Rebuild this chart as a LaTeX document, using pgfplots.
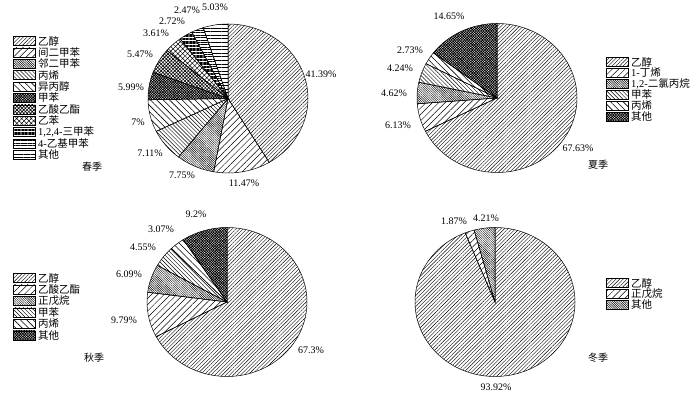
\documentclass[border=0pt]{standalone}
\usepackage{fontspec}
\setmainfont{Liberation Serif}
\newfontfamily\cjk{Noto Sans CJK SC}
\usepackage{pgfplots}
\pgfplotsset{compat=1.18}
\usepackage{pgfplotstable}
\usetikzlibrary{patterns.meta}

\tikzset{
 pA/.style={pattern={Lines[angle=45,distance=2.6pt,line width=0.4pt]}},
 pB/.style={pattern={Lines[angle=45,distance=4.5pt,line width=0.5pt]}},
 pC/.style={pattern={Lines[angle=-45,distance=1.6pt,line width=0.45pt]}},
 pD/.style={pattern={Lines[angle=-45,distance=2.8pt,line width=0.45pt]}},
 pE/.style={pattern={Lines[angle=-45,distance=4.5pt,line width=0.6pt]}},
 pF/.style={pattern={Hatch[angle=45,distance=1.8pt,line width=0.75pt]}},
 pG/.style={pattern={Hatch[angle=45,distance=2.4pt,line width=0.6pt]}},
 pH/.style={pattern={Hatch[angle=45,distance=3.4pt,line width=0.5pt]}},
 pI/.style={pattern={Lines[angle=0,distance=1.4pt,line width=0.45pt]}},
 pJ/.style={pattern={Lines[angle=0,distance=2.4pt,line width=0.4pt]}},
 pK/.style={pattern={Lines[angle=0,distance=3.6pt,line width=0.4pt]}},
}

\pgfplotstableread{
pct pat
41.39 pA
11.47 pB
7.75 pC
7.11 pD
7 pE
5.99 pF
5.47 pG
3.61 pH
2.72 pI
2.47 pJ
5.03 pK
}\springtab

\pgfplotstableread{
pct pat
67.63 pA
6.13 pB
4.62 pC
4.24 pD
2.73 pE
14.65 pF
}\summertab

\pgfplotstableread{
pct pat
67.3 pA
9.79 pB
6.09 pC
4.55 pD
3.07 pE
9.2 pF
}\autumntab

\pgfplotstableread{
pct pat
93.92 pA
1.87 pB
4.21 pC
}\wintertab

% #1 table, #2 centre x, #3 centre y (pixels from top)
\newcommand\drawpie[3]{%
  \pgfplotstablegetrowsof{#1}%
  \pgfmathtruncatemacro\lastrow{\pgfplotsretval-1}%
  \pgfmathsetmacro\cy{395-#3}%
  \xdef\cyg{\cy}%
  \gdef\cum{0}%
  \foreach \i in {0,...,\lastrow}{%
    \pgfplotstablegetelem{\i}{pct}\of{#1}\let\pv\pgfplotsretval
    \pgfplotstablegetelem{\i}{pat}\of{#1}\let\ptn\pgfplotsretval
    \pgfmathsetmacro\sa{90-3.6*\cum}%
    \pgfmathsetmacro\ea{90-3.6*(\cum+\pv)}%
    \pgfmathsetmacro\sx{#2+80*cos(\sa)}%
    \pgfmathsetmacro\sy{\cyg+74.5*sin(\sa)}%
    \pgfmathsetmacro\nc{\cum+\pv}\xdef\cum{\nc}%
    \edef\doit{\noexpand\fill[\ptn,draw=black,line width=0.5pt] (axis cs:#2,\cyg) -- (axis cs:\sx,\sy) arc[start angle=\sa,end angle=\ea,x radius=80pt,y radius=74.5pt] -- cycle;}%
    \doit
  }%
}
\newcommand\lab[3]{\pgfmathsetmacro\ly{395-#2}\node[font=\fontsize{10}{12}\selectfont,inner sep=0pt] at (axis cs:#1,\ly) {#3};}
\newcommand\legitem[4]{%
  \pgfmathsetmacro\ly{395-#2}\pgfmathsetmacro\lya{\ly-4.5}\pgfmathsetmacro\lyb{\ly+4.5}\pgfmathsetmacro\lxb{#1+22}\pgfmathsetmacro\lxt{#1+25}%
  \fill[#3,draw=black,line width=0.4pt] (axis cs:#1,\lya) rectangle (axis cs:\lxb,\lyb);
  \node[anchor=west,inner sep=0pt,font=\fontsize{10.5}{12}\selectfont] at (axis cs:\lxt,\ly) {#4};}

\begin{document}
\begin{tikzpicture}
\begin{axis}[width=700pt,height=395pt,scale only axis,xmin=0,xmax=700,ymin=0,ymax=395,hide axis,clip=false]
\pgfplotsextra{
\path (axis cs:0,0) rectangle (axis cs:700,395);
% spring
\drawpie{\springtab}{228}{98.5}
\lab{321}{74}{41.39\%}
\lab{244}{183}{11.47\%}
\lab{182}{175}{7.75\%}
\lab{150}{153}{7.11\%}
\lab{138}{122}{7\%}
\lab{131}{87}{5.99\%}
\lab{140}{54}{5.47\%}
\lab{156}{33}{3.61\%}
\lab{172}{21}{2.72\%}
\lab{187}{10}{2.47\%}
\lab{215}{7}{5.03\%}
\legitem{13}{41}{pA}{\cjk 乙醇}
\legitem{13}{52.4}{pB}{\cjk 间二甲苯}
\legitem{13}{63.8}{pC}{\cjk 邻二甲苯}
\legitem{13}{75.2}{pD}{\cjk 丙烯}
\legitem{13}{86.6}{pE}{\cjk 异丙醇}
\legitem{13}{98}{pF}{\cjk 甲苯}
\legitem{13}{109.4}{pG}{\cjk 乙酸乙酯}
\legitem{13}{120.8}{pH}{\cjk 乙苯}
\legitem{13}{132.2}{pI}{1,2,4-{\cjk 三甲苯}}
\legitem{13}{143.6}{pJ}{4-{\cjk 乙基甲苯}}
\legitem{13}{155}{pK}{\cjk 其他}
\lab{92}{167}{\cjk 春季}
% summer
\drawpie{\summertab}{497}{98}
\lab{449}{16}{14.65\%}
\lab{410}{50}{2.73\%}
\lab{400}{68}{4.24\%}
\lab{394}{93}{4.62\%}
\lab{398}{125}{6.13\%}
\lab{578}{148}{67.63\%}
\legitem{606}{62}{pA}{\cjk 乙醇}
\legitem{606}{73}{pB}{1-{\cjk 丁烯}}
\legitem{606}{84}{pC}{1,2-{\cjk 二氯丙烷}}
\legitem{606}{95}{pD}{\cjk 甲苯}
\legitem{606}{106}{pE}{\cjk 丙烯}
\legitem{606}{117}{pF}{\cjk 其他}
\lab{598}{165}{\cjk 夏季}
% autumn
\drawpie{\autumntab}{227}{302}
\lab{196}{214}{9.2\%}
\lab{161}{229}{3.07\%}
\lab{143}{247}{4.55\%}
\lab{129}{274}{6.09\%}
\lab{124}{320}{9.79\%}
\lab{311}{350}{67.3\%}
\legitem{13}{278}{pA}{\cjk 乙醇}
\legitem{13}{289.5}{pB}{\cjk 乙酸乙酯}
\legitem{13}{301}{pC}{\cjk 正戊烷}
\legitem{13}{312.5}{pD}{\cjk 甲苯}
\legitem{13}{324}{pE}{\cjk 丙烯}
\legitem{13}{335.5}{pF}{\cjk 其他}
\lab{94}{358}{\cjk 秋季}
% winter
\drawpie{\wintertab}{495}{302}
\lab{454}{221}{1.87\%}
\lab{486}{218}{4.21\%}
\lab{496}{387}{93.92\%}
\legitem{606}{283}{pA}{\cjk 乙醇}
\legitem{606}{294}{pB}{\cjk 正戊烷}
\legitem{606}{305}{pC}{\cjk 其他}
\lab{598}{358}{\cjk 冬季}
}
\end{axis}
\end{tikzpicture}
\end{document}
